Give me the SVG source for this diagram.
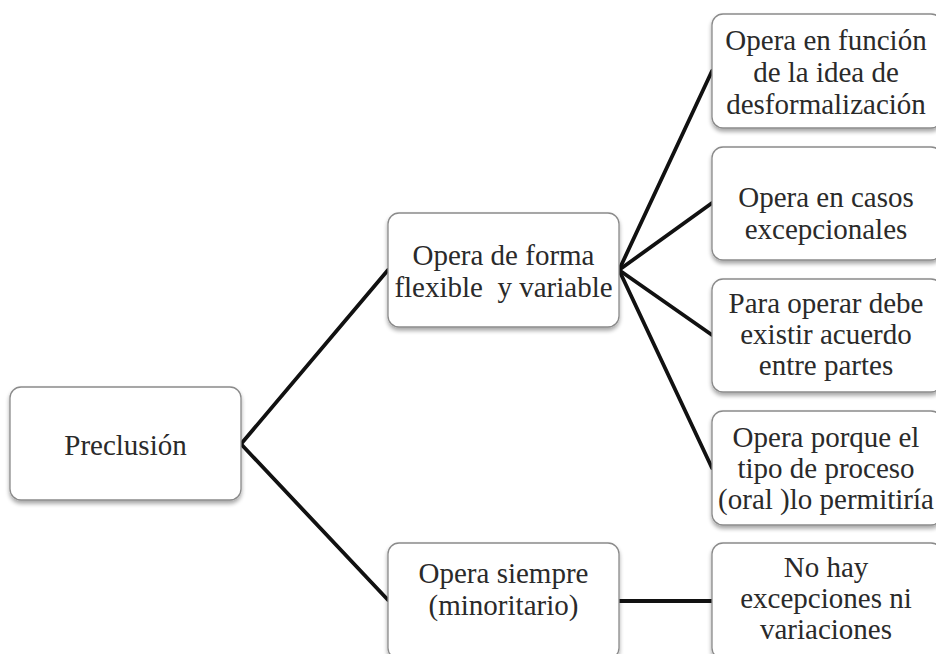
<svg xmlns="http://www.w3.org/2000/svg" width="936" height="654" viewBox="0 0 936 654">
<defs>
<filter id="sh" x="-10%" y="-10%" width="120%" height="125%">
<feGaussianBlur in="SourceAlpha" stdDeviation="2"/>
<feOffset dx="0" dy="3" result="b"/>
<feComponentTransfer><feFuncA type="linear" slope="0.35"/></feComponentTransfer>
<feMerge><feMergeNode/><feMergeNode in="SourceGraphic"/></feMerge>
</filter>
</defs>
<style>
.box{fill:#fff;stroke:#8a8a8a;stroke-width:1.3;filter:url(#sh)}
.t{font-family:"Liberation Serif","DejaVu Serif",serif;font-size:29px;fill:#2a2a2a;text-anchor:middle}
.c{stroke:#111;stroke-width:3.8;fill:none;stroke-linecap:round}
</style>
<rect width="936" height="654" fill="#fff"/>
<g id="connectors">
<line class="c" x1="241" y1="444" x2="388" y2="270"/>
<line class="c" x1="241" y1="444" x2="388" y2="600"/>
<line class="c" x1="619" y1="270" x2="712" y2="71"/>
<line class="c" x1="619" y1="270" x2="712" y2="203"/>
<line class="c" x1="619" y1="270" x2="712" y2="335"/>
<line class="c" x1="619" y1="270" x2="712" y2="468"/>
<line class="c" x1="619" y1="601" x2="712" y2="601"/>
</g>
<g id="preclusion">
<rect class="box" x="10" y="387" width="231" height="113" rx="11"/>
<text class="t" x="125.5" y="455">Preclusión</text>
</g>
<g id="flexible">
<rect class="box" x="388" y="213" width="231" height="114" rx="11"/>
<text class="t" x="503.5" y="265">Opera de forma</text>
<text class="t" x="503.5" y="297" xml:space="preserve">flexible  y variable</text>
</g>
<g id="siempre">
<rect class="box" x="388" y="543" width="231" height="116" rx="11"/>
<text class="t" x="503.5" y="583">Opera siempre</text>
<text class="t" x="503.5" y="615">(minoritario)</text>
</g>
<g id="desformalizacion">
<rect class="box" x="712" y="14" width="230" height="114" rx="11"/>
<text class="t" x="826" y="50">Opera en función</text>
<text class="t" x="826" y="82">de la idea de</text>
<text class="t" x="826" y="114">desformalización</text>
</g>
<g id="excepcionales">
<rect class="box" x="712" y="147" width="230" height="113" rx="11"/>
<text class="t" x="826" y="207">Opera en casos</text>
<text class="t" x="826" y="239">excepcionales</text>
</g>
<g id="acuerdo">
<rect class="box" x="712" y="279" width="230" height="113" rx="11"/>
<text class="t" x="826" y="313">Para operar debe</text>
<text class="t" x="826" y="344">existir acuerdo</text>
<text class="t" x="826" y="375">entre partes</text>
</g>
<g id="oral">
<rect class="box" x="712" y="411" width="230" height="114" rx="11"/>
<text class="t" x="826" y="447">Opera porque el</text>
<text class="t" x="826" y="478">tipo de proceso</text>
<text class="t" x="826" y="509">(oral )lo permitiría</text>
</g>
<g id="nohay">
<rect class="box" x="712" y="543" width="230" height="116" rx="11"/>
<text class="t" x="826" y="577">No hay</text>
<text class="t" x="826" y="608">excepciones ni</text>
<text class="t" x="826" y="639">variaciones</text>
</g>
</svg>
